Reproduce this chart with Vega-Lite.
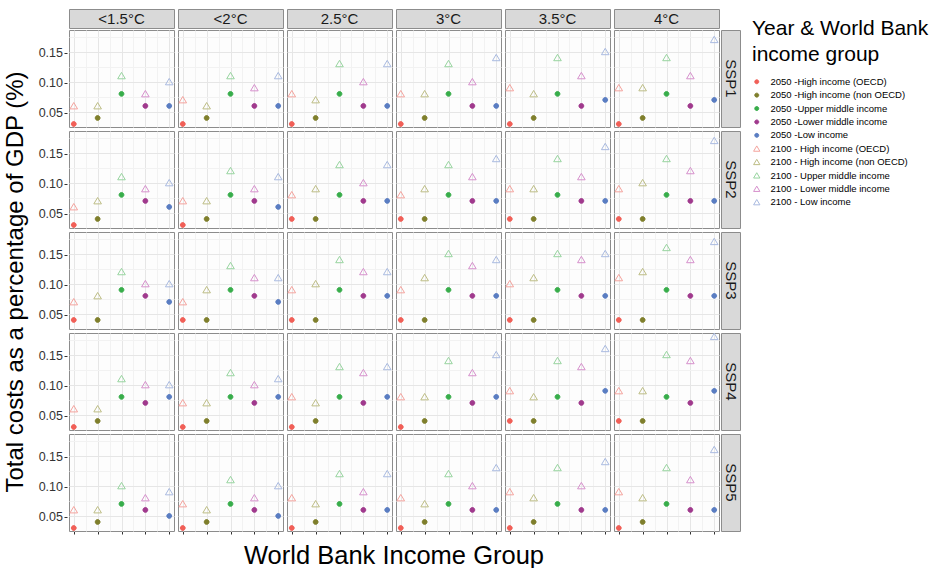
{
"$schema": "https://vega.github.io/schema/vega-lite/v6.json",
"padding": {"left": 3, "top": 8, "right": 5, "bottom": 0},
"data": {"values": [
{"s":"SSP1","t":"<1.5°C","g":"2050 -High income (OECD)","i":1,"v":0.03},
{"s":"SSP1","t":"<1.5°C","g":"2050 -High income (non OECD)","i":2,"v":0.04},
{"s":"SSP1","t":"<1.5°C","g":"2050 -Upper middle income","i":3,"v":0.08},
{"s":"SSP1","t":"<1.5°C","g":"2050 -Lower middle income","i":4,"v":0.06},
{"s":"SSP1","t":"<1.5°C","g":"2050 -Low income","i":5,"v":0.06},
{"s":"SSP1","t":"<1.5°C","g":"2100 - High income (OECD)","i":1,"v":0.06},
{"s":"SSP1","t":"<1.5°C","g":"2100 - High income (non OECD)","i":2,"v":0.06},
{"s":"SSP1","t":"<1.5°C","g":"2100 - Upper middle income","i":3,"v":0.11},
{"s":"SSP1","t":"<1.5°C","g":"2100 - Lower middle income","i":4,"v":0.08},
{"s":"SSP1","t":"<1.5°C","g":"2100 - Low income","i":5,"v":0.10},
{"s":"SSP1","t":"<2°C","g":"2050 -High income (OECD)","i":1,"v":0.03},
{"s":"SSP1","t":"<2°C","g":"2050 -High income (non OECD)","i":2,"v":0.04},
{"s":"SSP1","t":"<2°C","g":"2050 -Upper middle income","i":3,"v":0.08},
{"s":"SSP1","t":"<2°C","g":"2050 -Lower middle income","i":4,"v":0.06},
{"s":"SSP1","t":"<2°C","g":"2050 -Low income","i":5,"v":0.06},
{"s":"SSP1","t":"<2°C","g":"2100 - High income (OECD)","i":1,"v":0.07},
{"s":"SSP1","t":"<2°C","g":"2100 - High income (non OECD)","i":2,"v":0.06},
{"s":"SSP1","t":"<2°C","g":"2100 - Upper middle income","i":3,"v":0.11},
{"s":"SSP1","t":"<2°C","g":"2100 - Lower middle income","i":4,"v":0.09},
{"s":"SSP1","t":"<2°C","g":"2100 - Low income","i":5,"v":0.11},
{"s":"SSP1","t":"2.5°C","g":"2050 -High income (OECD)","i":1,"v":0.03},
{"s":"SSP1","t":"2.5°C","g":"2050 -High income (non OECD)","i":2,"v":0.04},
{"s":"SSP1","t":"2.5°C","g":"2050 -Upper middle income","i":3,"v":0.08},
{"s":"SSP1","t":"2.5°C","g":"2050 -Lower middle income","i":4,"v":0.06},
{"s":"SSP1","t":"2.5°C","g":"2050 -Low income","i":5,"v":0.06},
{"s":"SSP1","t":"2.5°C","g":"2100 - High income (OECD)","i":1,"v":0.08},
{"s":"SSP1","t":"2.5°C","g":"2100 - High income (non OECD)","i":2,"v":0.07},
{"s":"SSP1","t":"2.5°C","g":"2100 - Upper middle income","i":3,"v":0.13},
{"s":"SSP1","t":"2.5°C","g":"2100 - Lower middle income","i":4,"v":0.10},
{"s":"SSP1","t":"2.5°C","g":"2100 - Low income","i":5,"v":0.13},
{"s":"SSP1","t":"3°C","g":"2050 -High income (OECD)","i":1,"v":0.03},
{"s":"SSP1","t":"3°C","g":"2050 -High income (non OECD)","i":2,"v":0.04},
{"s":"SSP1","t":"3°C","g":"2050 -Upper middle income","i":3,"v":0.08},
{"s":"SSP1","t":"3°C","g":"2050 -Lower middle income","i":4,"v":0.06},
{"s":"SSP1","t":"3°C","g":"2050 -Low income","i":5,"v":0.06},
{"s":"SSP1","t":"3°C","g":"2100 - High income (OECD)","i":1,"v":0.08},
{"s":"SSP1","t":"3°C","g":"2100 - High income (non OECD)","i":2,"v":0.08},
{"s":"SSP1","t":"3°C","g":"2100 - Upper middle income","i":3,"v":0.13},
{"s":"SSP1","t":"3°C","g":"2100 - Lower middle income","i":4,"v":0.10},
{"s":"SSP1","t":"3°C","g":"2100 - Low income","i":5,"v":0.14},
{"s":"SSP1","t":"3.5°C","g":"2050 -High income (OECD)","i":1,"v":0.03},
{"s":"SSP1","t":"3.5°C","g":"2050 -High income (non OECD)","i":2,"v":0.04},
{"s":"SSP1","t":"3.5°C","g":"2050 -Upper middle income","i":3,"v":0.08},
{"s":"SSP1","t":"3.5°C","g":"2050 -Lower middle income","i":4,"v":0.06},
{"s":"SSP1","t":"3.5°C","g":"2050 -Low income","i":5,"v":0.07},
{"s":"SSP1","t":"3.5°C","g":"2100 - High income (OECD)","i":1,"v":0.09},
{"s":"SSP1","t":"3.5°C","g":"2100 - High income (non OECD)","i":2,"v":0.08},
{"s":"SSP1","t":"3.5°C","g":"2100 - Upper middle income","i":3,"v":0.14},
{"s":"SSP1","t":"3.5°C","g":"2100 - Lower middle income","i":4,"v":0.11},
{"s":"SSP1","t":"3.5°C","g":"2100 - Low income","i":5,"v":0.15},
{"s":"SSP1","t":"4°C","g":"2050 -High income (OECD)","i":1,"v":0.03},
{"s":"SSP1","t":"4°C","g":"2050 -High income (non OECD)","i":2,"v":0.04},
{"s":"SSP1","t":"4°C","g":"2050 -Upper middle income","i":3,"v":0.08},
{"s":"SSP1","t":"4°C","g":"2050 -Lower middle income","i":4,"v":0.06},
{"s":"SSP1","t":"4°C","g":"2050 -Low income","i":5,"v":0.07},
{"s":"SSP1","t":"4°C","g":"2100 - High income (OECD)","i":1,"v":0.09},
{"s":"SSP1","t":"4°C","g":"2100 - High income (non OECD)","i":2,"v":0.09},
{"s":"SSP1","t":"4°C","g":"2100 - Upper middle income","i":3,"v":0.14},
{"s":"SSP1","t":"4°C","g":"2100 - Lower middle income","i":4,"v":0.11},
{"s":"SSP1","t":"4°C","g":"2100 - Low income","i":5,"v":0.17},
{"s":"SSP2","t":"<1.5°C","g":"2050 -High income (OECD)","i":1,"v":0.03},
{"s":"SSP2","t":"<1.5°C","g":"2050 -High income (non OECD)","i":2,"v":0.04},
{"s":"SSP2","t":"<1.5°C","g":"2050 -Upper middle income","i":3,"v":0.08},
{"s":"SSP2","t":"<1.5°C","g":"2050 -Lower middle income","i":4,"v":0.07},
{"s":"SSP2","t":"<1.5°C","g":"2050 -Low income","i":5,"v":0.06},
{"s":"SSP2","t":"<1.5°C","g":"2100 - High income (OECD)","i":1,"v":0.06},
{"s":"SSP2","t":"<1.5°C","g":"2100 - High income (non OECD)","i":2,"v":0.07},
{"s":"SSP2","t":"<1.5°C","g":"2100 - Upper middle income","i":3,"v":0.11},
{"s":"SSP2","t":"<1.5°C","g":"2100 - Lower middle income","i":4,"v":0.09},
{"s":"SSP2","t":"<1.5°C","g":"2100 - Low income","i":5,"v":0.10},
{"s":"SSP2","t":"<2°C","g":"2050 -High income (OECD)","i":1,"v":0.03},
{"s":"SSP2","t":"<2°C","g":"2050 -High income (non OECD)","i":2,"v":0.04},
{"s":"SSP2","t":"<2°C","g":"2050 -Upper middle income","i":3,"v":0.08},
{"s":"SSP2","t":"<2°C","g":"2050 -Lower middle income","i":4,"v":0.07},
{"s":"SSP2","t":"<2°C","g":"2050 -Low income","i":5,"v":0.06},
{"s":"SSP2","t":"<2°C","g":"2100 - High income (OECD)","i":1,"v":0.07},
{"s":"SSP2","t":"<2°C","g":"2100 - High income (non OECD)","i":2,"v":0.07},
{"s":"SSP2","t":"<2°C","g":"2100 - Upper middle income","i":3,"v":0.12},
{"s":"SSP2","t":"<2°C","g":"2100 - Lower middle income","i":4,"v":0.09},
{"s":"SSP2","t":"<2°C","g":"2100 - Low income","i":5,"v":0.11},
{"s":"SSP2","t":"2.5°C","g":"2050 -High income (OECD)","i":1,"v":0.04},
{"s":"SSP2","t":"2.5°C","g":"2050 -High income (non OECD)","i":2,"v":0.04},
{"s":"SSP2","t":"2.5°C","g":"2050 -Upper middle income","i":3,"v":0.08},
{"s":"SSP2","t":"2.5°C","g":"2050 -Lower middle income","i":4,"v":0.07},
{"s":"SSP2","t":"2.5°C","g":"2050 -Low income","i":5,"v":0.07},
{"s":"SSP2","t":"2.5°C","g":"2100 - High income (OECD)","i":1,"v":0.08},
{"s":"SSP2","t":"2.5°C","g":"2100 - High income (non OECD)","i":2,"v":0.09},
{"s":"SSP2","t":"2.5°C","g":"2100 - Upper middle income","i":3,"v":0.13},
{"s":"SSP2","t":"2.5°C","g":"2100 - Lower middle income","i":4,"v":0.10},
{"s":"SSP2","t":"2.5°C","g":"2100 - Low income","i":5,"v":0.13},
{"s":"SSP2","t":"3°C","g":"2050 -High income (OECD)","i":1,"v":0.04},
{"s":"SSP2","t":"3°C","g":"2050 -High income (non OECD)","i":2,"v":0.04},
{"s":"SSP2","t":"3°C","g":"2050 -Upper middle income","i":3,"v":0.08},
{"s":"SSP2","t":"3°C","g":"2050 -Lower middle income","i":4,"v":0.07},
{"s":"SSP2","t":"3°C","g":"2050 -Low income","i":5,"v":0.07},
{"s":"SSP2","t":"3°C","g":"2100 - High income (OECD)","i":1,"v":0.08},
{"s":"SSP2","t":"3°C","g":"2100 - High income (non OECD)","i":2,"v":0.09},
{"s":"SSP2","t":"3°C","g":"2100 - Upper middle income","i":3,"v":0.13},
{"s":"SSP2","t":"3°C","g":"2100 - Lower middle income","i":4,"v":0.11},
{"s":"SSP2","t":"3°C","g":"2100 - Low income","i":5,"v":0.14},
{"s":"SSP2","t":"3.5°C","g":"2050 -High income (OECD)","i":1,"v":0.04},
{"s":"SSP2","t":"3.5°C","g":"2050 -High income (non OECD)","i":2,"v":0.04},
{"s":"SSP2","t":"3.5°C","g":"2050 -Upper middle income","i":3,"v":0.08},
{"s":"SSP2","t":"3.5°C","g":"2050 -Lower middle income","i":4,"v":0.07},
{"s":"SSP2","t":"3.5°C","g":"2050 -Low income","i":5,"v":0.07},
{"s":"SSP2","t":"3.5°C","g":"2100 - High income (OECD)","i":1,"v":0.09},
{"s":"SSP2","t":"3.5°C","g":"2100 - High income (non OECD)","i":2,"v":0.09},
{"s":"SSP2","t":"3.5°C","g":"2100 - Upper middle income","i":3,"v":0.14},
{"s":"SSP2","t":"3.5°C","g":"2100 - Lower middle income","i":4,"v":0.11},
{"s":"SSP2","t":"3.5°C","g":"2100 - Low income","i":5,"v":0.16},
{"s":"SSP2","t":"4°C","g":"2050 -High income (OECD)","i":1,"v":0.04},
{"s":"SSP2","t":"4°C","g":"2050 -High income (non OECD)","i":2,"v":0.04},
{"s":"SSP2","t":"4°C","g":"2050 -Upper middle income","i":3,"v":0.08},
{"s":"SSP2","t":"4°C","g":"2050 -Lower middle income","i":4,"v":0.07},
{"s":"SSP2","t":"4°C","g":"2050 -Low income","i":5,"v":0.07},
{"s":"SSP2","t":"4°C","g":"2100 - High income (OECD)","i":1,"v":0.09},
{"s":"SSP2","t":"4°C","g":"2100 - High income (non OECD)","i":2,"v":0.10},
{"s":"SSP2","t":"4°C","g":"2100 - Upper middle income","i":3,"v":0.14},
{"s":"SSP2","t":"4°C","g":"2100 - Lower middle income","i":4,"v":0.12},
{"s":"SSP2","t":"4°C","g":"2100 - Low income","i":5,"v":0.17},
{"s":"SSP3","t":"<1.5°C","g":"2050 -High income (OECD)","i":1,"v":0.04},
{"s":"SSP3","t":"<1.5°C","g":"2050 -High income (non OECD)","i":2,"v":0.04},
{"s":"SSP3","t":"<1.5°C","g":"2050 -Upper middle income","i":3,"v":0.09},
{"s":"SSP3","t":"<1.5°C","g":"2050 -Lower middle income","i":4,"v":0.08},
{"s":"SSP3","t":"<1.5°C","g":"2050 -Low income","i":5,"v":0.07},
{"s":"SSP3","t":"<1.5°C","g":"2100 - High income (OECD)","i":1,"v":0.07},
{"s":"SSP3","t":"<1.5°C","g":"2100 - High income (non OECD)","i":2,"v":0.08},
{"s":"SSP3","t":"<1.5°C","g":"2100 - Upper middle income","i":3,"v":0.12},
{"s":"SSP3","t":"<1.5°C","g":"2100 - Lower middle income","i":4,"v":0.10},
{"s":"SSP3","t":"<1.5°C","g":"2100 - Low income","i":5,"v":0.10},
{"s":"SSP3","t":"<2°C","g":"2050 -High income (OECD)","i":1,"v":0.04},
{"s":"SSP3","t":"<2°C","g":"2050 -High income (non OECD)","i":2,"v":0.04},
{"s":"SSP3","t":"<2°C","g":"2050 -Upper middle income","i":3,"v":0.09},
{"s":"SSP3","t":"<2°C","g":"2050 -Lower middle income","i":4,"v":0.08},
{"s":"SSP3","t":"<2°C","g":"2050 -Low income","i":5,"v":0.07},
{"s":"SSP3","t":"<2°C","g":"2100 - High income (OECD)","i":1,"v":0.07},
{"s":"SSP3","t":"<2°C","g":"2100 - High income (non OECD)","i":2,"v":0.09},
{"s":"SSP3","t":"<2°C","g":"2100 - Upper middle income","i":3,"v":0.13},
{"s":"SSP3","t":"<2°C","g":"2100 - Lower middle income","i":4,"v":0.11},
{"s":"SSP3","t":"<2°C","g":"2100 - Low income","i":5,"v":0.11},
{"s":"SSP3","t":"2.5°C","g":"2050 -High income (OECD)","i":1,"v":0.04},
{"s":"SSP3","t":"2.5°C","g":"2050 -High income (non OECD)","i":2,"v":0.04},
{"s":"SSP3","t":"2.5°C","g":"2050 -Upper middle income","i":3,"v":0.09},
{"s":"SSP3","t":"2.5°C","g":"2050 -Lower middle income","i":4,"v":0.08},
{"s":"SSP3","t":"2.5°C","g":"2050 -Low income","i":5,"v":0.08},
{"s":"SSP3","t":"2.5°C","g":"2100 - High income (OECD)","i":1,"v":0.09},
{"s":"SSP3","t":"2.5°C","g":"2100 - High income (non OECD)","i":2,"v":0.10},
{"s":"SSP3","t":"2.5°C","g":"2100 - Upper middle income","i":3,"v":0.14},
{"s":"SSP3","t":"2.5°C","g":"2100 - Lower middle income","i":4,"v":0.12},
{"s":"SSP3","t":"2.5°C","g":"2100 - Low income","i":5,"v":0.12},
{"s":"SSP3","t":"3°C","g":"2050 -High income (OECD)","i":1,"v":0.04},
{"s":"SSP3","t":"3°C","g":"2050 -High income (non OECD)","i":2,"v":0.04},
{"s":"SSP3","t":"3°C","g":"2050 -Upper middle income","i":3,"v":0.09},
{"s":"SSP3","t":"3°C","g":"2050 -Lower middle income","i":4,"v":0.08},
{"s":"SSP3","t":"3°C","g":"2050 -Low income","i":5,"v":0.08},
{"s":"SSP3","t":"3°C","g":"2100 - High income (OECD)","i":1,"v":0.09},
{"s":"SSP3","t":"3°C","g":"2100 - High income (non OECD)","i":2,"v":0.11},
{"s":"SSP3","t":"3°C","g":"2100 - Upper middle income","i":3,"v":0.15},
{"s":"SSP3","t":"3°C","g":"2100 - Lower middle income","i":4,"v":0.13},
{"s":"SSP3","t":"3°C","g":"2100 - Low income","i":5,"v":0.14},
{"s":"SSP3","t":"3.5°C","g":"2050 -High income (OECD)","i":1,"v":0.04},
{"s":"SSP3","t":"3.5°C","g":"2050 -High income (non OECD)","i":2,"v":0.04},
{"s":"SSP3","t":"3.5°C","g":"2050 -Upper middle income","i":3,"v":0.09},
{"s":"SSP3","t":"3.5°C","g":"2050 -Lower middle income","i":4,"v":0.08},
{"s":"SSP3","t":"3.5°C","g":"2050 -Low income","i":5,"v":0.08},
{"s":"SSP3","t":"3.5°C","g":"2100 - High income (OECD)","i":1,"v":0.10},
{"s":"SSP3","t":"3.5°C","g":"2100 - High income (non OECD)","i":2,"v":0.11},
{"s":"SSP3","t":"3.5°C","g":"2100 - Upper middle income","i":3,"v":0.15},
{"s":"SSP3","t":"3.5°C","g":"2100 - Lower middle income","i":4,"v":0.14},
{"s":"SSP3","t":"3.5°C","g":"2100 - Low income","i":5,"v":0.15},
{"s":"SSP3","t":"4°C","g":"2050 -High income (OECD)","i":1,"v":0.04},
{"s":"SSP3","t":"4°C","g":"2050 -High income (non OECD)","i":2,"v":0.04},
{"s":"SSP3","t":"4°C","g":"2050 -Upper middle income","i":3,"v":0.09},
{"s":"SSP3","t":"4°C","g":"2050 -Lower middle income","i":4,"v":0.08},
{"s":"SSP3","t":"4°C","g":"2050 -Low income","i":5,"v":0.08},
{"s":"SSP3","t":"4°C","g":"2100 - High income (OECD)","i":1,"v":0.11},
{"s":"SSP3","t":"4°C","g":"2100 - High income (non OECD)","i":2,"v":0.12},
{"s":"SSP3","t":"4°C","g":"2100 - Upper middle income","i":3,"v":0.16},
{"s":"SSP3","t":"4°C","g":"2100 - Lower middle income","i":4,"v":0.14},
{"s":"SSP3","t":"4°C","g":"2100 - Low income","i":5,"v":0.17},
{"s":"SSP4","t":"<1.5°C","g":"2050 -High income (OECD)","i":1,"v":0.03},
{"s":"SSP4","t":"<1.5°C","g":"2050 -High income (non OECD)","i":2,"v":0.04},
{"s":"SSP4","t":"<1.5°C","g":"2050 -Upper middle income","i":3,"v":0.08},
{"s":"SSP4","t":"<1.5°C","g":"2050 -Lower middle income","i":4,"v":0.07},
{"s":"SSP4","t":"<1.5°C","g":"2050 -Low income","i":5,"v":0.08},
{"s":"SSP4","t":"<1.5°C","g":"2100 - High income (OECD)","i":1,"v":0.06},
{"s":"SSP4","t":"<1.5°C","g":"2100 - High income (non OECD)","i":2,"v":0.06},
{"s":"SSP4","t":"<1.5°C","g":"2100 - Upper middle income","i":3,"v":0.11},
{"s":"SSP4","t":"<1.5°C","g":"2100 - Lower middle income","i":4,"v":0.10},
{"s":"SSP4","t":"<1.5°C","g":"2100 - Low income","i":5,"v":0.10},
{"s":"SSP4","t":"<2°C","g":"2050 -High income (OECD)","i":1,"v":0.03},
{"s":"SSP4","t":"<2°C","g":"2050 -High income (non OECD)","i":2,"v":0.04},
{"s":"SSP4","t":"<2°C","g":"2050 -Upper middle income","i":3,"v":0.08},
{"s":"SSP4","t":"<2°C","g":"2050 -Lower middle income","i":4,"v":0.07},
{"s":"SSP4","t":"<2°C","g":"2050 -Low income","i":5,"v":0.08},
{"s":"SSP4","t":"<2°C","g":"2100 - High income (OECD)","i":1,"v":0.07},
{"s":"SSP4","t":"<2°C","g":"2100 - High income (non OECD)","i":2,"v":0.07},
{"s":"SSP4","t":"<2°C","g":"2100 - Upper middle income","i":3,"v":0.12},
{"s":"SSP4","t":"<2°C","g":"2100 - Lower middle income","i":4,"v":0.10},
{"s":"SSP4","t":"<2°C","g":"2100 - Low income","i":5,"v":0.11},
{"s":"SSP4","t":"2.5°C","g":"2050 -High income (OECD)","i":1,"v":0.03},
{"s":"SSP4","t":"2.5°C","g":"2050 -High income (non OECD)","i":2,"v":0.04},
{"s":"SSP4","t":"2.5°C","g":"2050 -Upper middle income","i":3,"v":0.08},
{"s":"SSP4","t":"2.5°C","g":"2050 -Lower middle income","i":4,"v":0.07},
{"s":"SSP4","t":"2.5°C","g":"2050 -Low income","i":5,"v":0.08},
{"s":"SSP4","t":"2.5°C","g":"2100 - High income (OECD)","i":1,"v":0.08},
{"s":"SSP4","t":"2.5°C","g":"2100 - High income (non OECD)","i":2,"v":0.07},
{"s":"SSP4","t":"2.5°C","g":"2100 - Upper middle income","i":3,"v":0.13},
{"s":"SSP4","t":"2.5°C","g":"2100 - Lower middle income","i":4,"v":0.12},
{"s":"SSP4","t":"2.5°C","g":"2100 - Low income","i":5,"v":0.13},
{"s":"SSP4","t":"3°C","g":"2050 -High income (OECD)","i":1,"v":0.03},
{"s":"SSP4","t":"3°C","g":"2050 -High income (non OECD)","i":2,"v":0.04},
{"s":"SSP4","t":"3°C","g":"2050 -Upper middle income","i":3,"v":0.08},
{"s":"SSP4","t":"3°C","g":"2050 -Lower middle income","i":4,"v":0.07},
{"s":"SSP4","t":"3°C","g":"2050 -Low income","i":5,"v":0.08},
{"s":"SSP4","t":"3°C","g":"2100 - High income (OECD)","i":1,"v":0.08},
{"s":"SSP4","t":"3°C","g":"2100 - High income (non OECD)","i":2,"v":0.08},
{"s":"SSP4","t":"3°C","g":"2100 - Upper middle income","i":3,"v":0.14},
{"s":"SSP4","t":"3°C","g":"2100 - Lower middle income","i":4,"v":0.12},
{"s":"SSP4","t":"3°C","g":"2100 - Low income","i":5,"v":0.15},
{"s":"SSP4","t":"3.5°C","g":"2050 -High income (OECD)","i":1,"v":0.04},
{"s":"SSP4","t":"3.5°C","g":"2050 -High income (non OECD)","i":2,"v":0.04},
{"s":"SSP4","t":"3.5°C","g":"2050 -Upper middle income","i":3,"v":0.08},
{"s":"SSP4","t":"3.5°C","g":"2050 -Lower middle income","i":4,"v":0.07},
{"s":"SSP4","t":"3.5°C","g":"2050 -Low income","i":5,"v":0.09},
{"s":"SSP4","t":"3.5°C","g":"2100 - High income (OECD)","i":1,"v":0.09},
{"s":"SSP4","t":"3.5°C","g":"2100 - High income (non OECD)","i":2,"v":0.08},
{"s":"SSP4","t":"3.5°C","g":"2100 - Upper middle income","i":3,"v":0.14},
{"s":"SSP4","t":"3.5°C","g":"2100 - Lower middle income","i":4,"v":0.13},
{"s":"SSP4","t":"3.5°C","g":"2100 - Low income","i":5,"v":0.16},
{"s":"SSP4","t":"4°C","g":"2050 -High income (OECD)","i":1,"v":0.04},
{"s":"SSP4","t":"4°C","g":"2050 -High income (non OECD)","i":2,"v":0.04},
{"s":"SSP4","t":"4°C","g":"2050 -Upper middle income","i":3,"v":0.08},
{"s":"SSP4","t":"4°C","g":"2050 -Lower middle income","i":4,"v":0.07},
{"s":"SSP4","t":"4°C","g":"2050 -Low income","i":5,"v":0.09},
{"s":"SSP4","t":"4°C","g":"2100 - High income (OECD)","i":1,"v":0.09},
{"s":"SSP4","t":"4°C","g":"2100 - High income (non OECD)","i":2,"v":0.09},
{"s":"SSP4","t":"4°C","g":"2100 - Upper middle income","i":3,"v":0.15},
{"s":"SSP4","t":"4°C","g":"2100 - Lower middle income","i":4,"v":0.14},
{"s":"SSP4","t":"4°C","g":"2100 - Low income","i":5,"v":0.18},
{"s":"SSP5","t":"<1.5°C","g":"2050 -High income (OECD)","i":1,"v":0.03},
{"s":"SSP5","t":"<1.5°C","g":"2050 -High income (non OECD)","i":2,"v":0.04},
{"s":"SSP5","t":"<1.5°C","g":"2050 -Upper middle income","i":3,"v":0.07},
{"s":"SSP5","t":"<1.5°C","g":"2050 -Lower middle income","i":4,"v":0.06},
{"s":"SSP5","t":"<1.5°C","g":"2050 -Low income","i":5,"v":0.05},
{"s":"SSP5","t":"<1.5°C","g":"2100 - High income (OECD)","i":1,"v":0.06},
{"s":"SSP5","t":"<1.5°C","g":"2100 - High income (non OECD)","i":2,"v":0.06},
{"s":"SSP5","t":"<1.5°C","g":"2100 - Upper middle income","i":3,"v":0.10},
{"s":"SSP5","t":"<1.5°C","g":"2100 - Lower middle income","i":4,"v":0.08},
{"s":"SSP5","t":"<1.5°C","g":"2100 - Low income","i":5,"v":0.09},
{"s":"SSP5","t":"<2°C","g":"2050 -High income (OECD)","i":1,"v":0.03},
{"s":"SSP5","t":"<2°C","g":"2050 -High income (non OECD)","i":2,"v":0.04},
{"s":"SSP5","t":"<2°C","g":"2050 -Upper middle income","i":3,"v":0.07},
{"s":"SSP5","t":"<2°C","g":"2050 -Lower middle income","i":4,"v":0.06},
{"s":"SSP5","t":"<2°C","g":"2050 -Low income","i":5,"v":0.05},
{"s":"SSP5","t":"<2°C","g":"2100 - High income (OECD)","i":1,"v":0.07},
{"s":"SSP5","t":"<2°C","g":"2100 - High income (non OECD)","i":2,"v":0.06},
{"s":"SSP5","t":"<2°C","g":"2100 - Upper middle income","i":3,"v":0.11},
{"s":"SSP5","t":"<2°C","g":"2100 - Lower middle income","i":4,"v":0.08},
{"s":"SSP5","t":"<2°C","g":"2100 - Low income","i":5,"v":0.10},
{"s":"SSP5","t":"2.5°C","g":"2050 -High income (OECD)","i":1,"v":0.03},
{"s":"SSP5","t":"2.5°C","g":"2050 -High income (non OECD)","i":2,"v":0.04},
{"s":"SSP5","t":"2.5°C","g":"2050 -Upper middle income","i":3,"v":0.07},
{"s":"SSP5","t":"2.5°C","g":"2050 -Lower middle income","i":4,"v":0.06},
{"s":"SSP5","t":"2.5°C","g":"2050 -Low income","i":5,"v":0.06},
{"s":"SSP5","t":"2.5°C","g":"2100 - High income (OECD)","i":1,"v":0.08},
{"s":"SSP5","t":"2.5°C","g":"2100 - High income (non OECD)","i":2,"v":0.07},
{"s":"SSP5","t":"2.5°C","g":"2100 - Upper middle income","i":3,"v":0.12},
{"s":"SSP5","t":"2.5°C","g":"2100 - Lower middle income","i":4,"v":0.09},
{"s":"SSP5","t":"2.5°C","g":"2100 - Low income","i":5,"v":0.12},
{"s":"SSP5","t":"3°C","g":"2050 -High income (OECD)","i":1,"v":0.03},
{"s":"SSP5","t":"3°C","g":"2050 -High income (non OECD)","i":2,"v":0.04},
{"s":"SSP5","t":"3°C","g":"2050 -Upper middle income","i":3,"v":0.07},
{"s":"SSP5","t":"3°C","g":"2050 -Lower middle income","i":4,"v":0.06},
{"s":"SSP5","t":"3°C","g":"2050 -Low income","i":5,"v":0.06},
{"s":"SSP5","t":"3°C","g":"2100 - High income (OECD)","i":1,"v":0.08},
{"s":"SSP5","t":"3°C","g":"2100 - High income (non OECD)","i":2,"v":0.07},
{"s":"SSP5","t":"3°C","g":"2100 - Upper middle income","i":3,"v":0.12},
{"s":"SSP5","t":"3°C","g":"2100 - Lower middle income","i":4,"v":0.10},
{"s":"SSP5","t":"3°C","g":"2100 - Low income","i":5,"v":0.13},
{"s":"SSP5","t":"3.5°C","g":"2050 -High income (OECD)","i":1,"v":0.03},
{"s":"SSP5","t":"3.5°C","g":"2050 -High income (non OECD)","i":2,"v":0.04},
{"s":"SSP5","t":"3.5°C","g":"2050 -Upper middle income","i":3,"v":0.07},
{"s":"SSP5","t":"3.5°C","g":"2050 -Lower middle income","i":4,"v":0.06},
{"s":"SSP5","t":"3.5°C","g":"2050 -Low income","i":5,"v":0.06},
{"s":"SSP5","t":"3.5°C","g":"2100 - High income (OECD)","i":1,"v":0.09},
{"s":"SSP5","t":"3.5°C","g":"2100 - High income (non OECD)","i":2,"v":0.08},
{"s":"SSP5","t":"3.5°C","g":"2100 - Upper middle income","i":3,"v":0.13},
{"s":"SSP5","t":"3.5°C","g":"2100 - Lower middle income","i":4,"v":0.10},
{"s":"SSP5","t":"3.5°C","g":"2100 - Low income","i":5,"v":0.14},
{"s":"SSP5","t":"4°C","g":"2050 -High income (OECD)","i":1,"v":0.03},
{"s":"SSP5","t":"4°C","g":"2050 -High income (non OECD)","i":2,"v":0.04},
{"s":"SSP5","t":"4°C","g":"2050 -Upper middle income","i":3,"v":0.07},
{"s":"SSP5","t":"4°C","g":"2050 -Lower middle income","i":4,"v":0.06},
{"s":"SSP5","t":"4°C","g":"2050 -Low income","i":5,"v":0.06},
{"s":"SSP5","t":"4°C","g":"2100 - High income (OECD)","i":1,"v":0.09},
{"s":"SSP5","t":"4°C","g":"2100 - High income (non OECD)","i":2,"v":0.08},
{"s":"SSP5","t":"4°C","g":"2100 - Upper middle income","i":3,"v":0.13},
{"s":"SSP5","t":"4°C","g":"2100 - Lower middle income","i":4,"v":0.11},
{"s":"SSP5","t":"4°C","g":"2100 - Low income","i":5,"v":0.16}
]},
"spacing": -1,
"hconcat": [
 {
  "spacing": 0,
  "vconcat": [
   {"width": 1, "height": 22, "view": {"stroke": null, "fill": null},
    "transform": [{"aggregate": [{"op": "count", "as": "n"}]}],
    "mark": {"type": "text", "text": ""}, "encoding": {}},
   {"facet": {"row": {"field": "s", "type": "nominal",
      "header": {"labels": false, "title": "Total costs as a percentage of GDP (%)", "titleFontSize": 24, "titleFontWeight": "normal", "titleColor": "black", "titlePadding": 0}}},
    "spacing": 4, "bounds": "flush",
    "spec": {"width": 1, "height": 97, "view": {"stroke": null, "fill": null},
     "mark": {"type": "point", "opacity": 0, "size": 0, "strokeWidth": 0},
     "encoding": {"y": {"field": "v", "type": "quantitative",
       "scale": {"domain": [0.025, 0.186], "nice": false, "zero": false},
       "axis": {"values": [0.05, 0.1, 0.15], "format": ".2f", "title": null, "grid": false, "domain": false,
        "ticks": true, "tickSize": 3, "tickColor": "#333333", "labelFontSize": 12.5, "labelColor": "#333333", "labelPadding": 1.5}}}}}
  ]
 },
 {
  "spacing": 0,
  "vconcat": [
   {"transform": [{"aggregate": [{"op": "count", "as": "n"}], "groupby": ["t"]}],
    "facet": {"column": {"field": "t", "type": "nominal", "sort": ["<1.5°C", "<2°C", "2.5°C", "3°C", "3.5°C", "4°C"], "header": null}},
    "spacing": 4, "bounds": "flush",
    "spec": {"width": 105, "height": 19, "view": {"fill": "#d9d9d9", "stroke": "#8c8c8c"},
     "mark": {"type": "text", "fontSize": 15, "color": "#1a1a1a"},
     "encoding": {"text": {"field": "t", "type": "nominal"}}}},
   {"facet": {
      "row": {"field": "s", "type": "nominal", "header": null},
      "column": {"field": "t", "type": "nominal", "sort": ["<1.5°C", "<2°C", "2.5°C", "3°C", "3.5°C", "4°C"],
        "header": {"labels": false, "title": "World Bank Income Group", "titleOrient": "bottom", "titleFontSize": 25.5, "titleFontWeight": "normal", "titleColor": "black", "titlePadding": -1}}},
    "spacing": 4, "bounds": "flush",
    "spec": {"width": 105, "height": 97,
     "mark": {"type": "point", "opacity": 1, "size": 64, "strokeWidth": 1},
     "encoding": {
      "x": {"field": "i", "type": "quantitative", "scale": {"domain": [0.8, 5.2], "nice": false, "zero": false},
       "axis": {"values": [1, 1.5, 2, 2.5, 3, 3.5, 4, 4.5, 5], "labels": false, "title": null, "domain": false,
        "ticks": true, "tickSize": 3, "tickColor": "#333333",
        "tickOpacity": {"condition": {"test": "datum.value % 1 != 0", "value": 0}, "value": 1},
        "grid": true, "gridColor": {"condition": {"test": "datum.value % 1 != 0", "value": "#f2f2f2"}, "value": "#e6e6e6"}}},
      "y": {"field": "v", "type": "quantitative", "scale": {"domain": [0.025, 0.186], "nice": false, "zero": false},
       "axis": {"values": [0.05, 0.075, 0.1, 0.125, 0.15, 0.175], "labels": false, "ticks": false, "domain": false, "title": null,
        "grid": true, "gridColor": {"condition": {"test": "abs(datum.value*20 - round(datum.value*20)) > 0.01", "value": "#f2f2f2"}, "value": "#e6e6e6"}}},
      "fill": {"field": "g", "type": "nominal",
       "scale": {"domain": ["2050 -High income (OECD)", "2050 -High income (non OECD)", "2050 -Upper middle income", "2050 -Lower middle income", "2050 -Low income", "2100 - High income (OECD)", "2100 - High income (non OECD)", "2100 - Upper middle income", "2100 - Lower middle income", "2100 - Low income"],
        "range": ["#f15f57", "#7f7f2c", "#37ad4a", "#a0398d", "#5a7dc2", "transparent", "transparent", "transparent", "transparent", "transparent"]},
       "legend": {"title": ["Year & World Bank", "income group"]}},
      "stroke": {"field": "g", "type": "nominal",
       "scale": {"domain": ["2050 -High income (OECD)", "2050 -High income (non OECD)", "2050 -Upper middle income", "2050 -Lower middle income", "2050 -Low income", "2100 - High income (OECD)", "2100 - High income (non OECD)", "2100 - Upper middle income", "2100 - Lower middle income", "2100 - Low income"],
        "range": ["#f15f57", "#7f7f2c", "#37ad4a", "#a0398d", "#5a7dc2", "#f4a39d", "#bdbd85", "#97d49f", "#d690cc", "#a9bae0"]},
       "legend": {"title": ["Year & World Bank", "income group"]}},
      "shape": {"field": "g", "type": "nominal",
       "scale": {"domain": ["2050 -High income (OECD)", "2050 -High income (non OECD)", "2050 -Upper middle income", "2050 -Lower middle income", "2050 -Low income", "2100 - High income (OECD)", "2100 - High income (non OECD)", "2100 - Upper middle income", "2100 - Lower middle income", "2100 - Low income"],
        "range": ["M-0.6,0A0.6,0.6 0 1,0 0.6,0A0.6,0.6 0 1,0 -0.6,0Z", "M-0.6,0A0.6,0.6 0 1,0 0.6,0A0.6,0.6 0 1,0 -0.6,0Z", "M-0.6,0A0.6,0.6 0 1,0 0.6,0A0.6,0.6 0 1,0 -0.6,0Z", "M-0.6,0A0.6,0.6 0 1,0 0.6,0A0.6,0.6 0 1,0 -0.6,0Z", "M-0.6,0A0.6,0.6 0 1,0 0.6,0A0.6,0.6 0 1,0 -0.6,0Z", "M0,-0.85L0.95,0.75L-0.95,0.75Z", "M0,-0.85L0.95,0.75L-0.95,0.75Z", "M0,-0.85L0.95,0.75L-0.95,0.75Z", "M0,-0.85L0.95,0.75L-0.95,0.75Z", "M0,-0.85L0.95,0.75L-0.95,0.75Z"]},
       "legend": {"title": ["Year & World Bank", "income group"]}}
     }}}
  ]
 },
 {
  "spacing": 0,
  "vconcat": [
   {"width": 19, "height": 19, "view": {"stroke": "transparent", "fill": null},
    "transform": [{"aggregate": [{"op": "count", "as": "n"}]}],
    "mark": {"type": "text", "text": ""}, "encoding": {}},
   {"transform": [{"aggregate": [{"op": "count", "as": "n"}], "groupby": ["s"]}],
    "facet": {"row": {"field": "s", "type": "nominal", "header": null}},
    "spacing": 4, "bounds": "flush",
    "spec": {"width": 19, "height": 97, "view": {"fill": "#d9d9d9", "stroke": "#8c8c8c"},
     "mark": {"type": "text", "fontSize": 15, "angle": 90, "color": "#1a1a1a"},
     "encoding": {"text": {"field": "s", "type": "nominal"}}}}
  ]
 }
],
"config": {
 "font": "Liberation Sans",
 "view": {"stroke": "#8c8c8c", "strokeWidth": 1, "fill": "#fdfdfd"},
 "axis": {"minExtent": 0},
 "legend": {"orient": "right", "offset": 2, "padding": 9, "titleFontSize": 21, "titleFontWeight": "normal", "titleColor": "black",
  "titleLineHeight": 26, "titlePadding": 12, "titleLimit": 400, "labelFontSize": 9.5, "labelColor": "black", "labelLimit": 300,
  "symbolSize": 44, "symbolStrokeWidth": 1, "rowPadding": 2.4, "labelOffset": 9}
}
}
